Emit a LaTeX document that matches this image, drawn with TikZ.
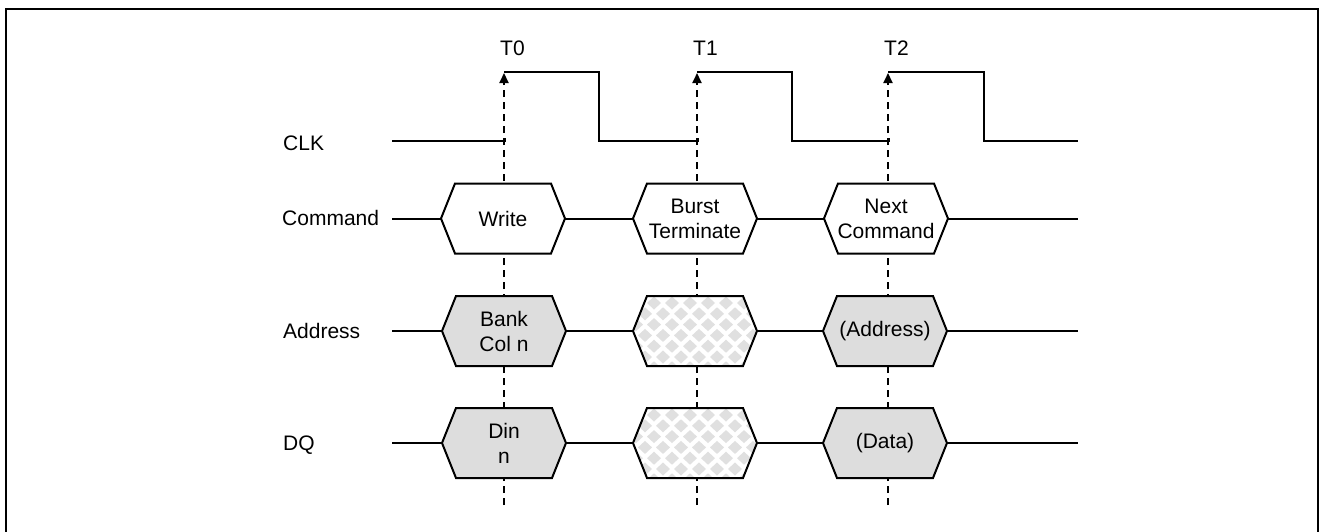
\documentclass[tikz,border=0pt]{standalone}
\usepackage{fontspec}
\setmainfont{Liberation Sans}
\usetikzlibrary{arrows.meta}
\definecolor{hexgray}{RGB}{221,221,221}
\definecolor{patgray}{RGB}{224,224,224}
\newcommand\hexpath[2]{(#1-62,#2) -- (#1-48,#2-35) -- (#1+48,#2-35) -- (#1+62,#2) -- (#1+48,#2+35) -- (#1-48,#2+35) -- cycle}
% name, cx, cy, style, text
\newcommand\hexsig[5]{%
  \coordinate (#1-l) at (#2-62,#3);
  \coordinate (#1-r) at (#2+62,#3);
  \path[#4] \hexpath{#2}{#3};
  \node[lbl, align=center] (#1) at (#2,#3) {#5};
}
% name, cx, cy : checkered (don't care) hexagon
\newcommand\hexdc[3]{%
  \coordinate (#1-l) at (#2-62,#3);
  \coordinate (#1-r) at (#2+62,#3);
  \fill[white] \hexpath{#2}{#3};
  \begin{scope}
    \clip \hexpath{#2}{#3};
    \foreach \j in {0,...,7}{
      \foreach \i in {-1,...,8}{
        \fill[patgray] ({#2-77+18*\i+9*mod(\j,2)},{#3-28+10.8*\j}) +(-7,0) -- +(0,-6.5) -- +(7,0) -- +(0,6.5) -- cycle;
      }
    }
  \end{scope}
  \draw[sig] \hexpath{#2}{#3};
  \node[inner sep=0pt] (#1) at (#2,#3) {};
}
\begin{document}
\begin{tikzpicture}[x=1pt,y=-1pt,
  sig/.style={line width=2pt, line join=miter, line cap=butt},
  guide/.style={line width=2pt, dash pattern=on 7pt off 5pt, -{Triangle[width=9pt,length=10pt]}},
  lbl/.style={font=\fontsize{21}{25}\selectfont, inner sep=0pt},
  wbox/.style={sig, draw=black, fill=white},
  gbox/.style={sig, draw=black, fill=hexgray}]
\useasboundingbox (0,0) rectangle (1320,531);
\fill[white] (0,0) rectangle (1320,531);
\draw[line width=2.5pt] (6,9) rectangle (1318,560);

% clock edge coordinates
\coordinate (b0) at (504,505); \coordinate (e0) at (504,73);
\coordinate (b1) at (697,505); \coordinate (e1) at (697,73);
\coordinate (b2) at (888,505); \coordinate (e2) at (888,73);

% dashed guides with arrows
\draw[guide] (b0) -- (e0);
\draw[guide] (b1) -- (e1);
\draw[guide] (b2) -- (e2);

% clock labels
\node[lbl, anchor=west] (t0) at (500,48) {T0};
\node[lbl, anchor=west] (t1) at (693,48) {T1};
\node[lbl, anchor=west] (t2) at (884,48) {T2};

% signal names
\node[lbl, anchor=west] (clk) at (283,143) {CLK};
\node[lbl, anchor=west] (cmd) at (282,218) {Command};
\node[lbl, anchor=west] (adr) at (283,331) {Address};
\node[lbl, anchor=west] (dq)  at (283,445) {DQ};

% clock waveform (rising edges are the dashed arrows)
\coordinate (c0) at (392,141);
\coordinate (c9) at (1078,141);
\draw[sig] (c0) -- (505,141) -- (505,138);
\draw[sig] (504,72) -- (599,72) -- (599,141) -- (698,141) -- (698,138);
\draw[sig] (697,72) -- (792,72) -- (792,141) -- (889,141) -- (889,138);
\draw[sig] (888,72) -- (984,72) -- (984,141) -- (c9);

% command row
\coordinate (cs) at (392,218.5); \coordinate (ce) at (1078,218.5);
\hexsig{w}{503}{218.5}{wbox}{Write}
\hexsig{bt}{695}{218.5}{wbox}{Burst\\Terminate}
\hexsig{nc}{886}{218.5}{wbox}{Next\\Command}
\draw[sig] (cs) -- (w-l);
\draw[sig] (w-r) -- (bt-l);
\draw[sig] (bt-r) -- (nc-l);
\draw[sig] (nc-r) -- (ce);

% address row
\coordinate (as) at (392,331); \coordinate (ae) at (1078,331);
\hexsig{bank}{504}{331}{gbox}{Bank\\Col n}
\hexdc{ax}{695}{331}
\hexsig{addr}{885}{331}{gbox}{(Address)}
\draw[sig] (as) -- (bank-l);
\draw[sig] (bank-r) -- (ax-l);
\draw[sig] (ax-r) -- (addr-l);
\draw[sig] (addr-r) -- (ae);

% DQ row
\coordinate (ds) at (392,443); \coordinate (de) at (1078,443);
\hexsig{din}{504}{443}{gbox}{Din\\n}
\hexdc{dx}{695}{443}
\hexsig{data}{885}{443}{gbox}{(Data)}
\draw[sig] (ds) -- (din-l);
\draw[sig] (din-r) -- (dx-l);
\draw[sig] (dx-r) -- (data-l);
\draw[sig] (data-r) -- (de);
\end{tikzpicture}
\end{document}
